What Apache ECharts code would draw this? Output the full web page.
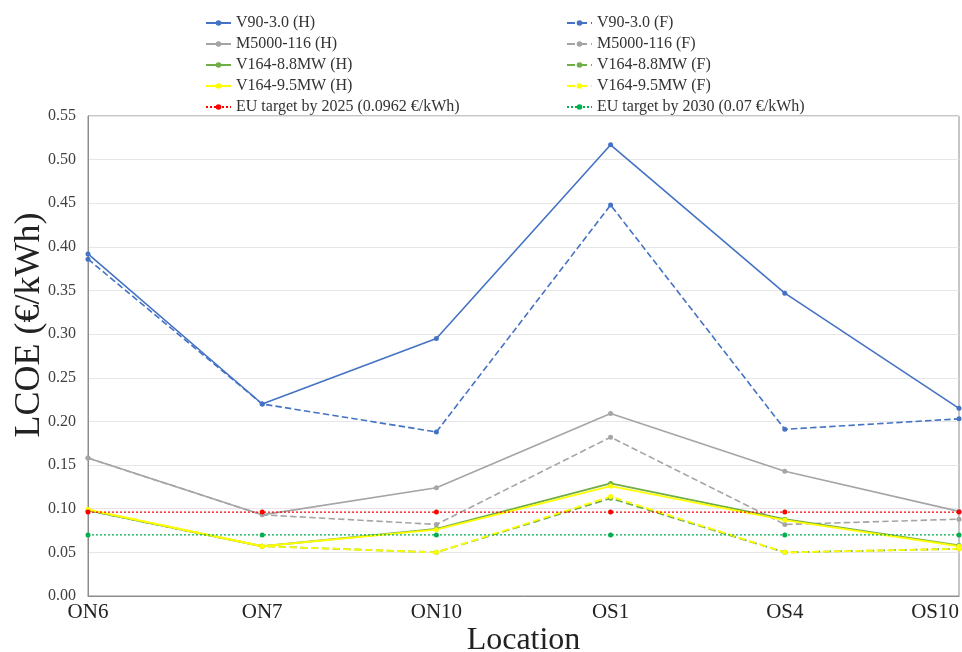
<!DOCTYPE html>
<html lang="en">
<head>
    <meta charset="UTF-8">
    <title>LCOE by location</title>
    <script src="https://cdn.jsdelivr.net/npm/echarts@6.0.0/dist/echarts.min.js"></script>
    <style>
        html, body { margin: 0; padding: 0; background: #fff; }
        #chart { width: 962px; height: 652px; }
    </style>
</head>
<body>
    <div id="chart"></div>

    <script>
        // locations on the x axis
        var locations = ['ON6', 'ON7', 'ON10', 'OS1', 'OS4', 'OS10'];

        // LCOE values (€/kWh)
        var v90H = [0.392, 0.220, 0.295, 0.517, 0.347, 0.215];
        var v90F = [0.386, 0.220, 0.188, 0.448, 0.191, 0.203];
        var m5000H = [0.158, 0.093, 0.124, 0.209, 0.143, 0.097];
        var m5000F = [0.158, 0.093, 0.082, 0.182, 0.082, 0.088];
        var v164_88H = [0.098, 0.057, 0.077, 0.129, 0.088, 0.058];
        var v164_88F = [0.098, 0.057, 0.050, 0.112, 0.050, 0.054];
        var v164_95H = [0.099, 0.057, 0.076, 0.126, 0.087, 0.057];
        var v164_95F = [0.099, 0.057, 0.050, 0.114, 0.050, 0.054];
        var target2025 = [0.0962, 0.0962, 0.0962, 0.0962, 0.0962, 0.0962];
        var target2030 = [0.07, 0.07, 0.07, 0.07, 0.07, 0.07];

        var font = 'Liberation Serif';

        function line(name, data, color, type, width) {
            return {
                name: name,
                type: 'line',
                data: data,
                symbol: 'circle',
                symbolSize: 5,
                itemStyle: { color: color },
                lineStyle: { color: color, type: type, width: width },
                emphasis: { disabled: true }
            };
        }

        var chart = echarts.init(document.getElementById('chart'));

        var legendCommon = {
            orient: 'vertical',
            top: 10,
            itemWidth: 25,
            itemHeight: 7,
            itemGap: 5,
            textStyle: { fontFamily: font, fontSize: 16, color: '#333' }
        };

        chart.setOption({
            animation: false,
            textStyle: { fontFamily: font },
            legend: [
                Object.assign({
                    left: 200,
                    data: ['V90-3.0 (H)', 'M5000-116 (H)', 'V164-8.8MW (H)', 'V164-9.5MW (H)', 'EU target by 2025 (0.0962 €/kWh)']
                }, legendCommon),
                Object.assign({
                    left: 561,
                    data: ['V90-3.0 (F)', 'M5000-116 (F)', 'V164-8.8MW (F)', 'V164-9.5MW (F)', 'EU target by 2030 (0.07 €/kWh)']
                }, legendCommon)
            ],
            grid: {
                left: 88, right: 3, top: 116, bottom: 56,
                containLabel: false,
                outerBoundsMode: 'none',
                show: true, borderColor: '#8c8c8c', borderWidth: 1
            },
            xAxis: {
                type: 'category',
                data: locations,
                boundaryGap: false,
                name: 'Location',
                nameLocation: 'middle',
                nameGap: 29,
                nameMoveOverlap: false,
                nameTextStyle: { fontFamily: font, fontSize: 32, color: '#222' },
                axisLine: { lineStyle: { color: '#8c8c8c' } },
                axisTick: { show: false },
                axisLabel: { fontFamily: font, fontSize: 21, color: '#222', margin: 6, alignMaxLabel: 'right' }
            },
            yAxis: {
                type: 'value',
                min: 0,
                max: 0.55,
                interval: 0.05,
                name: 'LCOE (€/kWh)',
                nameLocation: 'middle',
                nameGap: 40,
                nameMoveOverlap: false,
                nameTextStyle: { fontFamily: font, fontSize: 36, color: '#222', padding: [0, 0, 0, 62] },
                axisLine: { show: true, lineStyle: { color: '#8c8c8c' } },
                axisTick: { show: false },
                axisLabel: {
                    fontFamily: font, fontSize: 16, color: '#404040', margin: 12,
                    formatter: function (v) { return v.toFixed(2); }
                },
                splitLine: { lineStyle: { color: '#e6e6e6' } }
            },
            series: [
                line('V90-3.0 (H)', v90H, '#4472C4', 'solid', 1.6),
                line('V90-3.0 (F)', v90F, '#4472C4', 'dashed', 1.6),
                line('M5000-116 (H)', m5000H, '#A5A5A5', 'solid', 1.6),
                line('M5000-116 (F)', m5000F, '#A5A5A5', 'dashed', 1.6),
                line('V164-8.8MW (H)', v164_88H, '#70AD47', 'solid', 1.8),
                line('V164-8.8MW (F)', v164_88F, '#70AD47', 'dashed', 1.8),
                line('V164-9.5MW (H)', v164_95H, '#FFFF00', 'solid', 1.8),
                line('V164-9.5MW (F)', v164_95F, '#FFFF00', 'dashed', 1.8),
                line('EU target by 2025 (0.0962 €/kWh)', target2025, '#FF0000', [2, 2], 1.2),
                line('EU target by 2030 (0.07 €/kWh)', target2030, '#00B050', [2, 2], 1.2)
            ]
        });
    </script>
</body>
</html>
